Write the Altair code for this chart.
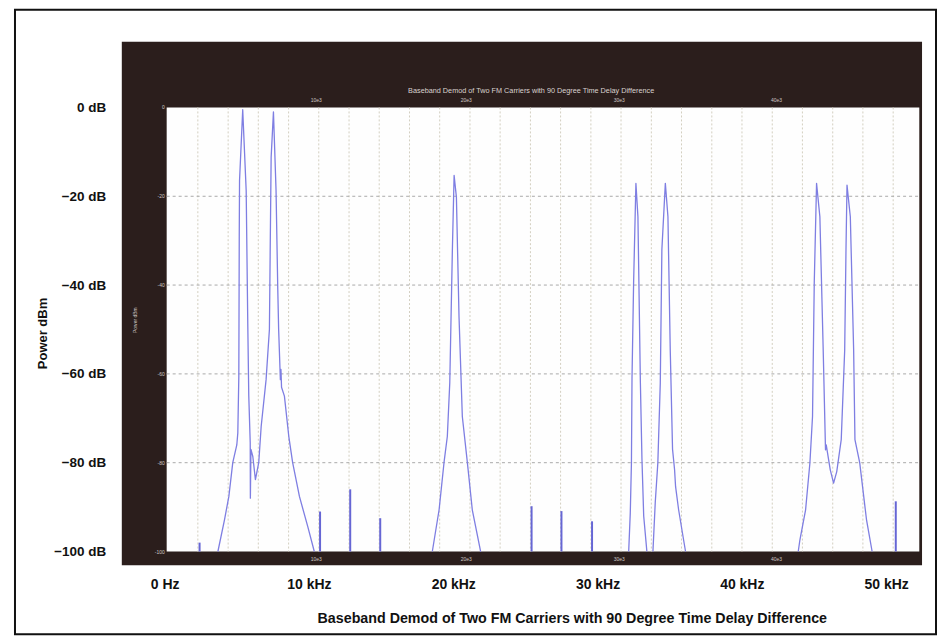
import altair as alt
import pandas as pd

# ---------------- values ----------------
x_tick_values = [0, 10, 20, 30, 40, 50]
x_tick_labels = ["0 Hz", "10 kHz", "20 kHz", "30 kHz", "40 kHz", "50 kHz"]
y_tick_values = [0, -20, -40, -60, -80, -100]
y_tick_labels = ["0 dB", "\u221220 dB", "\u221240 dB", "\u221260 dB", "\u221280 dB", "\u2212100 dB"]

caption = "Baseband Demod of Two FM Carriers with 90 Degree Time Delay Difference"
y_title = "Power dBm"

# analyzer screen (dark frame) and its white plot window, in kHz / dB
frame_f = [-2.97, 52.49]
frame_db = [14.8, -103.1]
window_f = [0.14, 52.3]
window_db = [0, -100]

# analyzer grid
grid_f = [2.30, 4.40, 6.49, 8.59, 10.68, 12.78, 14.87, 16.97, 19.06, 21.16,
          23.25, 25.35, 27.44, 29.54, 31.63, 33.73, 35.82, 37.92, 40.01, 42.11,
          44.20, 46.30, 48.39, 50.49]
grid_db = [-20, -40, -60, -80]

# spectrum trace, one list pair per visible cluster
c1_f = [3.69, 4.15, 4.45, 4.72, 5.00, 5.07, 5.14, 5.15, 5.17, 5.19,
        5.41, 5.65, 5.76, 5.83, 5.93, 5.94, 5.98, 6.11, 6.29, 6.52,
        6.69, 7.03, 7.26, 7.31, 7.38, 7.54, 7.72, 7.84, 7.90, 8.02,
        8.06, 8.10, 8.30, 8.60, 8.87, 9.34, 9.91, 10.37]
c1_db = [-100, -92.8, -87.6, -80, -76, -73.3, -60.6, -50, -29, -16.4,
         -0.5, -18.7, -48.6, -65, -75.5, -88, -77, -78.6, -83.8, -80,
         -71.8, -61.3, -50, -33.6, -11.2, -1, -18.7, -41, -50, -61.3,
         -59, -63, -65, -74, -80, -87.6, -94.3, -100]

c2_f = [18.55, 19.02, 19.36, 19.59, 19.76, 19.94, 20.06, 20.22, 20.40, 20.63, 20.98, 21.32, 21.90]
c2_db = [-100, -90.6, -80, -74.1, -62, -32.1, -15.3, -20.2, -47.1, -69.6, -80, -90.6, -100]

c3_f = [32.16, 32.27, 32.35, 32.39, 32.50, 32.66, 32.80, 32.97, 33.08, 33.20, 33.42]
c3_db = [-100, -91.3, -80, -61, -39.6, -17.1, -24.6, -62, -79.3, -92, -100]

c4_f = [33.84, 34.00, 34.18, 34.35, 34.46, 34.70, 34.88, 35.04, 35.20, 35.34, 35.41, 35.62, 35.96, 36.10]
c4_db = [-100, -89, -80, -62, -32, -17.1, -24.6, -54.6, -77, -81.6, -85.4, -90.6, -97.3, -100]

c5_f = [43.91, 44.03, 44.42, 44.72, 44.90, 45.02, 45.18, 45.41, 45.64, 45.80,
        45.85, 46.13, 46.36, 46.58, 46.89, 47.13, 47.22, 47.29, 47.52, 47.75,
        47.84, 48.17, 48.64, 49.03]
c5_db = [-100, -97.3, -90.6, -80, -69.6, -39.6, -17.1, -24.6, -54.6, -77.1,
         -76, -81.6, -84.6, -82, -74.8, -54.6, -32, -17.5, -24.6, -54.6,
         -74.8, -80, -92.8, -100]

# small spurs rising from the noise floor
spur_f = [2.42, 10.77, 12.86, 14.94, 25.43, 27.50, 29.62, 50.67]
spur_db = [-98, -91, -86, -92.5, -89.8, -90.9, -93.2, -88.7]

# tiny labels printed by the analyzer inside its dark frame
inner_title = caption
inner_title_pos = [25.4, 3.8]
inner_x_f = [10.5, 20.9, 31.5, 42.4]
inner_x_labels = ["10e3", "20e3", "30e3", "40e3"]
inner_top_db = 1.6
inner_bottom_db = -101.6
inner_y_labels = ["0", "-20", "-40", "-60", "-80", "-100"]
inner_ytitle_pos = [-2.07, -47.9]

# ---------------- scales and printed axes ----------------
X_DOMAIN = [-10.373, 53.458]
Y_DOMAIN = [-118.652, 22.022]
xs = alt.Scale(domain=X_DOMAIN, nice=False, zero=False)
ys = alt.Scale(domain=Y_DOMAIN, nice=False, zero=False)

FONT = "Liberation Sans"
INK = "#111111"

x_label_expr = "[" + ",".join("'%s'" % s for s in x_tick_labels) + "][indexof([" + \
    ",".join(str(v) for v in x_tick_values) + "], datum.value)]"
y_label_expr = "[" + ",".join("'%s'" % s for s in y_tick_labels) + "][indexof([" + \
    ",".join(str(v) for v in y_tick_values) + "], datum.value)]"

x_axis = alt.Axis(
    values=x_tick_values, labelExpr=x_label_expr, orient="bottom", offset=-50,
    domain=False, ticks=False, grid=False, labelPadding=0, labelBaseline="middle",
    labelFont=FONT, labelFontSize=14, labelFontWeight="bold", labelColor=INK,
    labelFlush=False, labelOverlap=False,
    title=caption, titleX=558, titleY=34, titleAlign="center", titleBaseline="middle",
    titleFont=FONT, titleFontSize=14.3, titleFontWeight="bold", titleColor=INK)

y_axis = alt.Axis(
    values=y_tick_values, labelExpr=y_label_expr, orient="left", offset=-91,
    domain=False, ticks=False, grid=False, labelPadding=0, labelAlign="right",
    labelBaseline="middle", labelFont=FONT, labelFontSize=13.5, labelFontWeight="bold",
    labelColor=INK, labelFlush=False, labelOverlap=False,
    title=y_title, titleX=-63, titleY=324, titleAngle=270, titleAlign="center",
    titleBaseline="middle", titleFont=FONT, titleFontSize=13, titleFontWeight="bold",
    titleColor=INK)


def X(field, **kw):
    return alt.X(field, type="quantitative", scale=xs, axis=x_axis, **kw)


def Y(field, **kw):
    return alt.Y(field, type="quantitative", scale=ys, axis=y_axis, **kw)


frame_df = pd.DataFrame({"f": [frame_f[0]], "f2": [frame_f[1]], "d": [frame_db[0]], "d2": [frame_db[1]]})
frame = alt.Chart(frame_df).mark_rect(color="#2b1e1c").encode(
    x=X("f:Q"), x2="f2:Q", y=Y("d:Q"), y2="d2:Q")

window_df = pd.DataFrame({"f": [window_f[0]], "f2": [window_f[1]], "d": [window_db[0]], "d2": [window_db[1]]})
window = alt.Chart(window_df).mark_rect(color="#fefefe").encode(
    x=X("f:Q"), x2="f2:Q", y=Y("d:Q"), y2="d2:Q")

vgrid_df = pd.DataFrame({"f": grid_f, "top": window_db[0], "bot": window_db[1]})
vgrid = alt.Chart(vgrid_df).mark_rule(color="#d3cfc0", strokeWidth=1, strokeDash=[2, 2]).encode(
    x=X("f:Q"), y=Y("top:Q"), y2="bot:Q")

hgrid_df = pd.DataFrame({"d": grid_db, "left": window_f[0], "right": window_f[1]})
hgrid = alt.Chart(hgrid_df).mark_rule(color="#a9a9a9", strokeWidth=1, strokeDash=[3, 3]).encode(
    y=Y("d:Q"), x=X("left:Q"), x2="right:Q")

rows = []
for cid, (fs, ds) in enumerate([(c1_f, c1_db), (c2_f, c2_db), (c3_f, c3_db), (c4_f, c4_db), (c5_f, c5_db)]):
    for i, (f, d) in enumerate(zip(fs, ds)):
        rows.append({"seg": cid, "i": i, "f": f, "d": d})
trace_df = pd.DataFrame(rows)
trace = alt.Chart(trace_df).mark_line(color="#7e7ee2", strokeWidth=1.3, strokeJoin="round").encode(
    x=X("f:Q"), y=Y("d:Q"), detail="seg:N", order="i:Q")

spur_df = pd.DataFrame({"f": spur_f, "d": spur_db, "floor": window_db[1]})
spurs = alt.Chart(spur_df).mark_rule(color="#6666d4", strokeWidth=2).encode(
    x=X("f:Q"), y=Y("d:Q"), y2="floor:Q")

# tiny analyzer annotations
ititle = alt.Chart(pd.DataFrame({"f": [inner_title_pos[0]], "d": [inner_title_pos[1]], "t": [inner_title]})).mark_text(
    font=FONT, fontSize=7.3, color="#d9d2cf", align="center", baseline="middle").encode(
    x=X("f:Q"), y=Y("d:Q"), text="t:N")

itop = alt.Chart(pd.DataFrame({"f": inner_x_f, "d": inner_top_db, "t": inner_x_labels})).mark_text(
    font=FONT, fontSize=5, color="#cfc8c4", align="center", baseline="middle").encode(
    x=X("f:Q"), y=Y("d:Q"), text="t:N")

ibot = alt.Chart(pd.DataFrame({"f": inner_x_f, "d": inner_bottom_db, "t": inner_x_labels})).mark_text(
    font=FONT, fontSize=5, color="#cfc8c4", align="center", baseline="middle").encode(
    x=X("f:Q"), y=Y("d:Q"), text="t:N")

ileft = alt.Chart(pd.DataFrame({"f": window_f[0], "d": y_tick_values, "t": inner_y_labels})).mark_text(
    font=FONT, fontSize=5, color="#cfc8c4", align="right", baseline="middle", dx=-2).encode(
    x=X("f:Q"), y=Y("d:Q"), text="t:N")

iytitle = alt.Chart(pd.DataFrame({"f": [inner_ytitle_pos[0]], "d": [inner_ytitle_pos[1]], "t": [y_title]})).mark_text(
    font=FONT, fontSize=5, color="#cfc8c4", align="center", baseline="middle", angle=270).encode(
    x=X("f:Q"), y=Y("d:Q"), text="t:N")

chart = alt.layer(
    frame, window, vgrid, hgrid, trace, spurs, ititle, itop, ibot, ileft, iytitle
).properties(
    width=923, height=626,
    padding={"left": 7, "top": 1, "right": 1, "bottom": 1},
    autosize=alt.AutoSizeParams(type="none"),
    background="white",
).configure_view(stroke=INK, strokeWidth=2, fill="white")

chart.save("out.html", embed_options={"renderer": "svg", "actions": False})
